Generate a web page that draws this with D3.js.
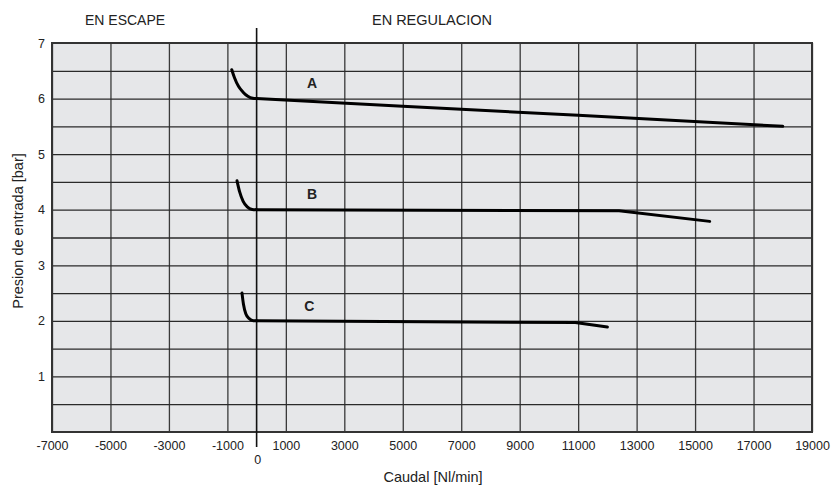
<!DOCTYPE html>
<html>
<head>
<meta charset="utf-8">
<script src="https://cdn.jsdelivr.net/npm/d3@7"></script>
<style>
  body { margin: 0; background: #fff; }
  svg { display: block; }
  text { font-family: "Liberation Sans", Arial, sans-serif; fill: #222; }
</style>
</head>
<body>
<svg id="chart" width="832" height="488"></svg>
<script>
// ---- data ----
const xTickValues = [-7000, -5000, -3000, -1000, 1000, 3000, 5000, 7000, 9000, 11000, 13000, 15000, 17000, 19000];
const yTickValues = [1, 2, 3, 4, 5, 6, 7];
const yGridValues = [0.5, 1, 1.5, 2, 2.5, 3, 3.5, 4, 4.5, 5, 5.5, 6, 6.5];
const zoneLabels = ["EN ESCAPE", "EN REGULACION"];
const seriesNames = ["A", "B", "C"];
// escape part (curved) of each series
const escapeA = [[-850, 6.52], [-760, 6.38], [-620, 6.22], [-470, 6.12], [-300, 6.04], [-130, 6.005], [0, 6.0]];
const escapeB = [[-670, 4.52], [-580, 4.32], [-460, 4.15], [-320, 4.05], [-150, 4.005], [0, 4.0]];
const escapeC = [[-500, 2.5], [-450, 2.3], [-370, 2.13], [-250, 2.04], [-110, 2.003], [0, 2.0]];
// regulation part (straight segments) of each series
const regA = [[0, 6.0], [5000, 5.86], [11000, 5.70], [18000, 5.5]];
const regB = [[0, 4.0], [12400, 3.98], [15500, 3.79]];
const regC = [[0, 2.0], [10900, 1.97], [12000, 1.89]];
const seriesLabelPos = [[1900, 6.28], [1900, 4.28], [1800, 2.26]];
const xTitle = "Caudal [Nl/min]";
const yTitle = "Presion de entrada [bar]";

// ---- layout ----
const svg = d3.select("#chart");
const L = 52, R = 812, T = 43, B = 432;
const x = d3.scaleLinear().domain([-7000, 19000]).range([L, R]);
const y = d3.scaleLinear().domain([0, 7]).range([B, T]);

// background
svg.append("rect").attr("x", L).attr("y", T).attr("width", R - L).attr("height", B - T)
  .attr("fill", "#e6e7e9");

// grid
const gridX = d3.axisBottom(x).tickValues(xTickValues).tickSize(-(B - T)).tickFormat("");
svg.append("g").attr("transform", `translate(0,${B})`).call(gridX)
  .call(g => g.select(".domain").remove())
  .call(g => g.selectAll("line").attr("stroke", "#3a3a3a").attr("stroke-width", 1.3));
const gridY = d3.axisLeft(y).tickValues(yGridValues).tickSize(-(R - L)).tickFormat("");
svg.append("g").attr("transform", `translate(${L},0)`).call(gridY)
  .call(g => g.select(".domain").remove())
  .call(g => g.selectAll("line").attr("stroke", "#2a2a2a").attr("stroke-width", 1.3));

// border
svg.append("rect").attr("x", L).attr("y", T).attr("width", R - L).attr("height", B - T)
  .attr("fill", "none").attr("stroke", "#333").attr("stroke-width", 2);

// zero axis line
svg.append("line").attr("x1", x(0)).attr("x2", x(0)).attr("y1", 28).attr("y2", 447)
  .attr("stroke", "#111").attr("stroke-width", 1.6);

// x tick labels
const xAxis = d3.axisBottom(x).tickValues(xTickValues).tickSize(0).tickPadding(9)
  .tickFormat(d => String(d));
svg.append("g").attr("transform", `translate(0,${B})`).call(xAxis)
  .call(g => g.select(".domain").remove())
  .call(g => g.selectAll("text").attr("font-size", 12.5).attr("fill", "#222")
    .attr("font-family", '"Liberation Sans", Arial, sans-serif'));
svg.append("text").attr("x", x(0) + 1).attr("y", 464).attr("text-anchor", "middle")
  .attr("font-size", 12.5).text("0");

// y tick labels
const yAxis = d3.axisLeft(y).tickValues(yTickValues).tickSize(0).tickPadding(7)
  .tickFormat(d => String(d));
svg.append("g").attr("transform", `translate(${L},0)`).call(yAxis)
  .call(g => g.select(".domain").remove())
  .call(g => g.selectAll("text").attr("font-size", 12.5).attr("fill", "#222")
    .attr("font-family", '"Liberation Sans", Arial, sans-serif'));

// zone labels
svg.append("text").attr("x", x(-4500)).attr("y", 25).attr("text-anchor", "middle")
  .attr("font-size", 14).text(zoneLabels[0]);
svg.append("text").attr("x", x(6000)).attr("y", 25).attr("text-anchor", "middle")
  .attr("font-size", 14.5).text(zoneLabels[1]);

// axis titles
svg.append("text").attr("x", (L + R) / 2 + 1).attr("y", 482).attr("text-anchor", "middle")
  .attr("font-size", 14.5).text(xTitle);
svg.append("text").attr("transform", `translate(23,231) rotate(-90)`).attr("text-anchor", "middle")
  .attr("font-size", 14.5).text(yTitle);

// curves
const curved = d3.line().x(d => x(d[0])).y(d => y(d[1])).curve(d3.curveMonotoneX);
const straight = d3.line().x(d => x(d[0])).y(d => y(d[1]));
const drawPath = (data, gen) => svg.append("path").datum(data).attr("d", gen).attr("fill", "none")
  .attr("stroke", "#000").attr("stroke-width", 3).attr("stroke-linecap", "round")
  .attr("stroke-linejoin", "round");
[escapeA, escapeB, escapeC].forEach(c => drawPath(c, curved));
[regA, regB, regC].forEach(c => drawPath(c, straight));

// series labels
seriesNames.forEach((n, i) => {
  svg.append("text").attr("x", x(seriesLabelPos[i][0])).attr("y", y(seriesLabelPos[i][1]) + 5)
    .attr("text-anchor", "middle").attr("font-size", 14).attr("font-weight", "bold")
    .attr("fill", "#000").text(n);
});
</script>
</body>
</html>
